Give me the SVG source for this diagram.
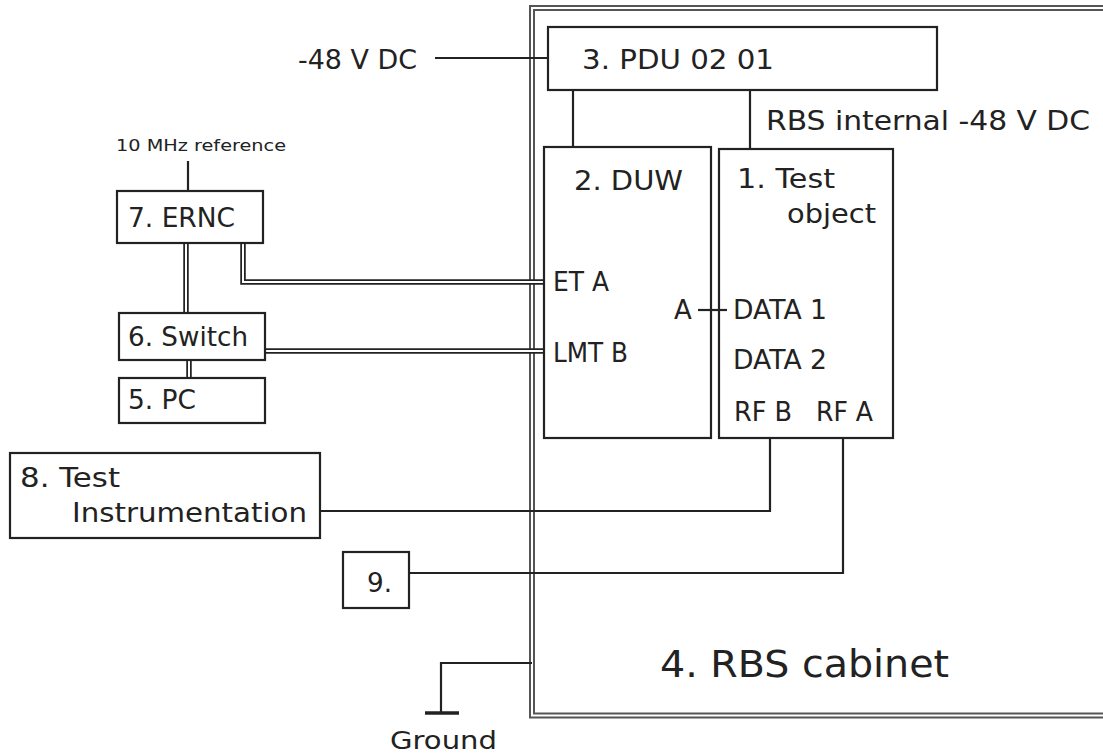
<svg xmlns="http://www.w3.org/2000/svg" width="1103" height="753" viewBox="0 0 1103 753">
<style>
text{font-family:"DejaVu Sans","Verdana",sans-serif;font-size:26px;fill:#222}
.box{fill:none;stroke:#222;stroke-width:2.2}
.wire{fill:none;stroke:#222;stroke-width:2.2}
.dbl{fill:none;stroke:#222;stroke-width:5.5}
.dblin{fill:none;stroke:#fff;stroke-width:2}
.cab{fill:none;stroke:#555;stroke-width:6}
.cabin{fill:none;stroke:#fff;stroke-width:2}
</style>
<rect width="1103" height="753" fill="#fff"/>
<g id="cabinet">
<path class="cab" d="M1110 8 H532 V715.5 H1110"/>
<path class="cabin" d="M1110 8 H532 V715.5 H1110"/>
<text x="660" y="677" style="font-size:37px" textLength="289" lengthAdjust="spacingAndGlyphs">4. RBS cabinet</text>
</g>
<g id="connectors">
<path class="wire" d="M435 58 H548"/>
<path class="wire" d="M573 90 V147"/>
<path class="wire" d="M750 90 V149"/>
<path class="wire" d="M188 161 V191"/>
<path class="wire" d="M698 310 H727"/>
<path class="wire" d="M770 438 V511 H320"/>
<path class="wire" d="M843 438 V573 H409"/>
<path class="wire" d="M532 663 H441 V713"/>
<path d="M425 713 H459" stroke="#222" stroke-width="3.5"/>
<path class="dbl" d="M243 243 V282 H544"/>
<path class="dblin" d="M243 243 V282 H544"/>
<path class="dbl" d="M186 243 V313"/>
<path class="dblin" d="M186 243 V313"/>
<path class="dbl" d="M189 360 V378"/>
<path class="dblin" d="M189 360 V378"/>
<path class="dbl" d="M265 351 H544"/>
<path class="dblin" d="M265 351 H544"/>
</g>
<g id="dc-label">
<text x="298" y="69" textLength="119" lengthAdjust="spacingAndGlyphs">-48 V DC</text>
</g>
<g id="ref-label">
<text x="116" y="151" style="font-size:16.5px" textLength="170" lengthAdjust="spacingAndGlyphs">10 MHz reference</text>
</g>
<g id="pdu">
<rect class="box" x="548" y="27" width="389" height="63" fill="#fff"/>
<text x="582" y="69" textLength="192" lengthAdjust="spacingAndGlyphs">3. PDU 02 01</text>
</g>
<g id="internal-label">
<text x="766" y="130" textLength="324" lengthAdjust="spacingAndGlyphs">RBS internal -48 V DC</text>
</g>
<g id="duw">
<rect class="box" x="544" y="147" width="167" height="291"/>
<text x="574" y="190" textLength="109" lengthAdjust="spacingAndGlyphs">2. DUW</text>
<text x="553" y="291" textLength="56" lengthAdjust="spacingAndGlyphs">ET A</text>
<text x="553" y="362" textLength="75" lengthAdjust="spacingAndGlyphs">LMT B</text>
<text x="674" y="319">A</text>
</g>
<g id="test-object">
<rect class="box" x="719" y="149" width="174" height="289"/>
<text x="737" y="188" textLength="98" lengthAdjust="spacingAndGlyphs">1. Test</text>
<text x="787" y="223" textLength="89" lengthAdjust="spacingAndGlyphs">object</text>
<text x="733" y="319" textLength="94" lengthAdjust="spacingAndGlyphs">DATA 1</text>
<text x="733" y="369" textLength="94" lengthAdjust="spacingAndGlyphs">DATA 2</text>
<text x="734" y="421" textLength="58" lengthAdjust="spacingAndGlyphs">RF B</text>
<text x="816" y="421" textLength="57" lengthAdjust="spacingAndGlyphs">RF A</text>
</g>
<g id="ernc">
<rect class="box" x="117" y="191" width="146" height="52"/>
<text x="128" y="227" textLength="107" lengthAdjust="spacingAndGlyphs">7. ERNC</text>
</g>
<g id="switch">
<rect class="box" x="119" y="313" width="146" height="47"/>
<text x="128" y="346" textLength="120" lengthAdjust="spacingAndGlyphs">6. Switch</text>
</g>
<g id="pc">
<rect class="box" x="119" y="378" width="146" height="45"/>
<text x="128" y="409" textLength="68" lengthAdjust="spacingAndGlyphs">5. PC</text>
</g>
<g id="test-instrumentation">
<rect class="box" x="10" y="453" width="310" height="85"/>
<text x="20" y="487" textLength="100" lengthAdjust="spacingAndGlyphs">8. Test</text>
<text x="72" y="522" textLength="235" lengthAdjust="spacingAndGlyphs">Instrumentation</text>
</g>
<g id="item9">
<rect class="box" x="343" y="552" width="66" height="56"/>
<text x="367" y="592" textLength="25" lengthAdjust="spacingAndGlyphs">9.</text>
</g>
<g id="ground">
<text x="390" y="749" style="font-size:25px" textLength="107" lengthAdjust="spacingAndGlyphs">Ground</text>
</g>
</svg>
